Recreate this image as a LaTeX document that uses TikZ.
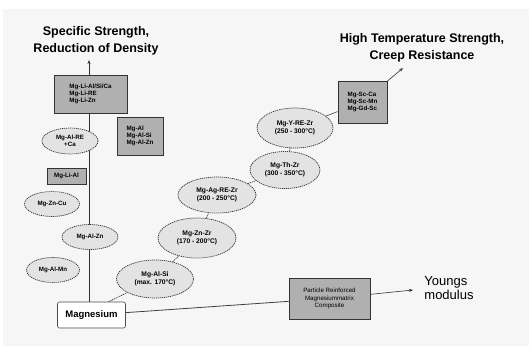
\documentclass[tikz,border=0pt]{standalone}
\usepackage{fontspec}
\setmainfont{Liberation Sans}
\usetikzlibrary{shapes.geometric,arrows.meta}
\begin{document}
\begin{tikzpicture}[x=1pt,y=-1pt,
  ell/.style={ellipse, draw=gray!40!black, dashed, dash pattern=on 1.2pt off 0.8pt, line width=0.7pt, fill=gray!22, inner sep=0pt, align=center, font=\fontsize{6.2}{7}\selectfont\bfseries},
  gbox/.style={rectangle, draw=black!80, line width=0.9pt, fill=gray!62, inner sep=0pt, align=left, font=\fontsize{6.2}{7}\selectfont\bfseries},
  title/.style={align=center, font=\fontsize{12.5}{17.5}\selectfont\bfseries, inner sep=0pt},
  conn/.style={draw=gray!50!black, line width=0.6pt},
  link/.style={draw=gray!45!black, line width=0.7pt, dash pattern=on 1.2pt off 0.8pt},
  arr/.style={draw=black!80, line width=0.6pt, -{Stealth[length=4pt,width=3pt]}}]
\fill[white] (0,0) rectangle (529,348);
\fill[gray!7] (3,9) rectangle (529,346);
\useasboundingbox (0,0) rectangle (529,348);

% titles
\node[title] (ss) at (96,41) {Specific Strength,\\Reduction of Density};
\node[title] (hts) at (422,48) {High Temperature Strength,\\Creep Resistance};
\node[align=left, inner sep=0pt, font=\fontsize{13}{13.5}\selectfont] (ym) at (449,288) {Youngs\\modulus};

\coordinate (sstip) at (89,60);
\coordinate (httip) at (403,68);
\coordinate (ymtip) at (413,290);

% Magnesium
\node[rectangle, rounded corners=2pt, draw=black!70, line width=0.6pt, fill=white, minimum width=68pt, minimum height=26pt, inner sep=0pt, font=\fontsize{9.5}{10}\selectfont\bfseries] (mg) at (91.5,315) {Magnesium};

% vertical trunk
\draw[arr] (mg.north -| sstip) -- (sstip);

% left column nodes
\node[gbox, minimum width=73pt, minimum height=38pt] (li1) at (90.5,94) {Mg-Li-Al/Si/Ca\\Mg-Li-RE\\Mg-Li-Zn};
\node[gbox, minimum width=46pt, minimum height=38pt] (li2) at (140,136) {Mg-Al\\Mg-Al-Si\\Mg-Al-Zn};
\node[ell, minimum width=56pt, minimum height=26pt] (alre) at (70,141) {Mg-Al-RE\\+Ca};
\node[gbox, minimum width=39pt, minimum height=16pt] (lial) at (66.5,176) {Mg-Li-Al};
\node[ell, minimum width=55pt, minimum height=25pt] (zncu) at (52,204) {Mg-Zn-Cu};
\node[ell, minimum width=56pt, minimum height=25pt] (alzn) at (90,237) {Mg-Al-Zn};
\node[ell, minimum width=53pt, minimum height=25pt] (almn) at (53,270) {Mg-Al-Mn};

% high temperature chain
\node[ell, minimum width=77pt, minimum height=38pt, font=\fontsize{6.7}{7.7}\selectfont\bfseries] (alsi) at (155,279) {Mg-Al-Si\\(max. 170°C)};
\node[ell, minimum width=78pt, minimum height=40pt, font=\fontsize{6.7}{7.7}\selectfont\bfseries] (znzr) at (197,238) {Mg-Zn-Zr\\(170 - 200°C)};
\node[ell, minimum width=78pt, minimum height=36pt, font=\fontsize{6.7}{7.7}\selectfont\bfseries] (agre) at (217,195) {Mg-Ag-RE-Zr\\(200 - 250°C)};
\node[ell, minimum width=70pt, minimum height=37pt, font=\fontsize{6.7}{7.7}\selectfont\bfseries] (thzr) at (285,170) {Mg-Th-Zr\\(300 - 350°C)};
\node[ell, minimum width=76pt, minimum height=40pt, font=\fontsize{6.7}{7.7}\selectfont\bfseries] (yre) at (295,128) {Mg-Y-RE-Zr\\(250 - 300°C)};
\node[gbox, minimum width=49pt, minimum height=42pt] (sc) at (362.5,102) {Mg-Sc-Ca\\Mg-Sc-Mn\\Mg-Gd-Sc};

% composite
\node[gbox, align=center, font=\fontsize{6.2}{7.8}\selectfont, minimum width=81pt, minimum height=41pt] (comp) at (329.5,298.5) {Particle Reinforced\\Magnesiummatrix\\Composite};

% connectors
\draw[link] ([xshift=17pt]mg.north) -- (alsi);
\draw[link] (alsi) -- (znzr);
\draw[link] (znzr) -- (agre);
\draw[link] (agre) -- (thzr);
\draw[link] (thzr) -- (yre);
\draw[conn] (yre) -- (sc);
\draw[arr] (sc) -- (httip);
\draw[conn, line width=0.8pt] (mg) -- (comp);
\draw[arr] (comp) -- (ymtip);
\end{tikzpicture}
\end{document}
